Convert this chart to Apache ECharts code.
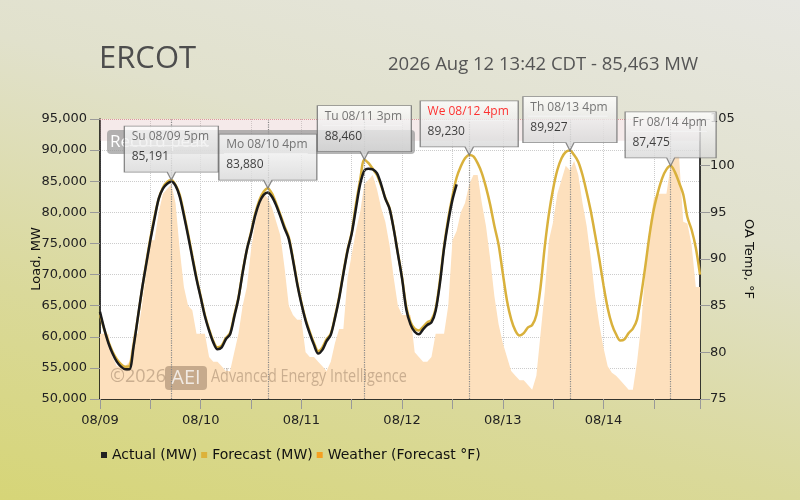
<!DOCTYPE html>
<html lang="en">
<head>
<meta charset="utf-8">
<title>ERCOT load</title>
<script src="https://cdn.jsdelivr.net/npm/echarts@6/dist/echarts.min.js"></script>
<style>
    html, body { margin: 0; padding: 0; }
    #main {
        width: 800px; height: 500px;
        background: linear-gradient(195deg, #e7e7e2 0%, #e1e1cc 35%, #dad99a 70%, #d6d577 100%);
    }
</style>
</head>
<body>
<div id="main"></div>
<script>
    // x is hours since 08/09 00:00
    var dayLabels = ['08/09', '08/10', '08/11', '08/12', '08/13', '08/14'];

    // Actual load, MW (hourly, ends 08/12 13:00)
    var actual = [
        64000, 61300, 59000, 57300, 56000, 55200, 54800, 54800, 58400, 63000, 67600, 71600, 75500, 79000, 82200, 83800, 84600, 84900, 84300, 82500, 79500, 76200, 72700, 69300,
        66300, 63300, 61000, 59100, 58000, 58300, 59600, 60400, 63200, 66200, 70300, 74000, 76600, 79500, 81600, 82800, 83200, 82500, 81100, 79300, 77400, 75700, 72300, 68500,
        65300, 62600, 60500, 58700, 57300, 57900, 59300, 60300, 63000, 66200, 70100, 73800, 76600, 80600, 84500, 86700, 87000, 86900, 86300, 84500, 82200, 80600, 77300, 73300,
        69300, 64400, 62000, 60800, 60400, 61200, 61900, 62300, 64200, 68500, 74200, 78500, 82000, 84500
    ];

    // Forecast load, MW (hourly)
    var forecast = [
        63600, 61200, 59200, 57600, 56400, 55600, 55200, 55300, 58600, 63000, 67500, 71800, 75800, 79300, 82200, 84000, 84900, 85191, 84400, 82800, 79800, 76500, 73000, 69500,
        66500, 63500, 61200, 59300, 58300, 58600, 59800, 60600, 63500, 66300, 70500, 74000, 76800, 79800, 82000, 83300, 83880, 83000, 81400, 79600, 77700, 76000, 72500, 68700,
        65500, 62800, 60800, 59000, 57700, 58300, 59600, 60500, 63200, 66400, 70300, 74000, 76800, 81300, 85200, 88460, 87900, 87000, 86000, 84300, 82300, 80700, 77400, 73400,
        69500, 64800, 62400, 61300, 61000, 61600, 62300, 62700, 64500, 69000, 74500, 79000, 82600, 85600, 87400, 88700, 89230, 89000, 87900, 86300, 84000, 81200, 77800, 74800,
        70200, 65800, 62800, 61000, 60200, 60600, 61500, 61900, 63500, 68000, 74500, 79800, 83800, 86800, 88700, 89700, 89927, 89200, 88100, 86000, 83200, 80100, 76400, 72500,
        68300, 64600, 62000, 60400, 59400, 59600, 60600, 61300, 62800, 66800, 71500, 76500, 80500, 83300, 85500, 86900, 87475, 86500, 84800, 82900, 79200, 77200, 74300, 70000
    ];

    // Forecast temperature, °F (hourly)
    var weather = [
        82, 82, 82, 79.5, 78.5, 78.5, 78.5, 79, 82, 82, 85, 88.5, 92, 92, 95, 97, 97.5, 98, 96, 91, 87, 85, 84.5, 82,
        82, 82, 79.5, 79, 79, 78.5, 78, 78, 80, 82, 85, 87, 91, 94, 96, 97, 96.5, 95.5, 94, 92.5, 89, 85, 84, 83.5,
        83.5, 80, 79.5, 79.5, 79, 78.5, 78, 79, 81, 82.5, 82.5, 88, 90.5, 93, 95, 98, 98.5, 99, 97.5, 95.5, 94, 91.5, 88, 85,
        84, 84, 84, 80, 79.5, 79, 79, 79.5, 82, 82, 82, 85, 92, 93, 95, 96, 98, 99, 99, 96, 93.5, 90, 86, 83,
        81, 79.5, 78, 77.5, 77, 77, 76.5, 76, 77.5, 82, 86.5, 92, 94, 97, 98.5, 100, 99.5, 100.5, 99, 96, 93.5, 90, 86, 83,
        80.5, 78.5, 77.8, 77.5, 77, 76.5, 76, 76, 79, 83, 89, 93.5, 96.5, 97, 97, 97, 100, 101, 101, 94, 93.8, 91.5, 87, 87
    ];

    // daily forecast peaks
    var peakHours = [17, 40, 63, 88, 112, 136];
    var peakValues = [85191, 83880, 88460, 89230, 89927, 87475];
    var peakLabels = ['Su 08/09 5pm', 'Mo 08/10 4pm', 'Tu 08/11 3pm', 'We 08/12 4pm', 'Th 08/13 4pm', 'Fr 08/14 4pm'];
    var today = '08/12';

    var titleText = 'ERCOT';
    var subText = '2026 Aug 12 13:42 CDT - 85,463 MW';

    function fmt(v) { return v.toLocaleString('en-US'); }
    function pairs(arr) { return arr.map(function (v, i) { return [i, v]; }); }

    var calloutFont = '12px "Open Sans"';
    var ctx = document.createElement('canvas').getContext('2d');
    ctx.font = calloutFont;

    var peakData = peakHours.map(function (h, i) {
        var w = Math.round(ctx.measureText(peakLabels[i]).width) + 17;
        return { name: peakLabels[i], value: [h, peakValues[i]], symbolSize: [w, 54] };
    });

    var myChart = echarts.init(document.getElementById('main'));
    myChart.setOption({
        backgroundColor: 'transparent',
        animation: false,
        textStyle: { fontFamily: 'DejaVu Sans' },
        title: [{
            text: titleText, left: 94, top: 39,
            textStyle: { fontSize: 31, fontWeight: 'normal', color: '#4d4d4d', fontFamily: 'Open Sans' }
        }, {
            text: subText, right: 97, top: 50,
            textStyle: { fontSize: 18.5, fontWeight: 'normal', color: '#555', fontFamily: 'Open Sans' }
        }],
        legend: {
            left: 96, top: 443, icon: 'rect', itemWidth: 6, itemHeight: 6, itemGap: 4,
            textStyle: { fontSize: 14, color: '#111' },
            data: [
                { name: 'Actual (MW)', itemStyle: { color: '#222' } },
                { name: 'Forecast (MW)', itemStyle: { color: '#dcb23a' } },
                { name: 'Weather (Forecast °F)', itemStyle: { color: '#f5a020' } }
            ]
        },
        grid: { left: 100, right: 100, top: 119, bottom: 101, show: true, backgroundColor: '#fff', borderWidth: 0 },
        xAxis: {
            type: 'value', min: 0, max: 143, interval: 12,
            axisLine: { lineStyle: { color: '#000', width: 1.5 } },
            axisTick: { length: 10, lineStyle: { color: '#999' } },
            splitLine: { show: true, lineStyle: { color: '#ccc', type: 'dotted' } },
            axisLabel: {
                margin: 15, fontSize: 13, color: '#222',
                formatter: function (v) { return v % 24 === 0 ? dayLabels[v / 24] : ''; }
            }
        },
        yAxis: [{
            type: 'value', min: 50000, max: 95000, interval: 5000,
            name: 'Load, MW', nameLocation: 'middle', nameGap: 57, nameMoveOverlap: false,
            nameTextStyle: { fontSize: 13, color: '#111' },
            axisLine: { show: true, lineStyle: { color: '#000', width: 1.5 } },
            axisTick: { show: true, length: 10, lineStyle: { color: '#999' } },
            splitLine: { lineStyle: { color: '#ccc', type: 'dotted' } },
            axisLabel: { margin: 13, fontSize: 13, color: '#222', formatter: fmt }
        }, {
            type: 'value', min: 75, max: 105, interval: 5, position: 'right',
            name: 'OA Temp, °F', nameLocation: 'middle', nameGap: 42, nameRotate: -90, nameMoveOverlap: false,
            nameTextStyle: { fontSize: 13, color: '#111' },
            axisLine: { show: true, lineStyle: { color: '#000', width: 1.5 } },
            axisTick: { show: true, length: 10, lineStyle: { color: '#999' } },
            splitLine: { show: false },
            axisLabel: { margin: 10, fontSize: 13, color: '#222' }
        }],
        graphic: [
            { type: 'rect', z: 3, shape: { x: 107, y: 130, width: 308, height: 24, r: 4 }, style: { fill: 'rgba(150,150,150,0.7)' } },
            { type: 'text', z: 3, x: 110, y: 142, style: { text: 'Record peak', fill: '#fff', font: '17px "Open Sans"', verticalAlign: 'middle' } },
            { type: 'text', z: 1.5, x: 110, y: 377, style: { text: '©2026', fill: 'rgba(130,105,80,0.42)', font: '18px "Open Sans"', verticalAlign: 'middle' } },
            { type: 'rect', z: 1.5, shape: { x: 165, y: 366, width: 42, height: 24, r: 4 }, style: { fill: 'rgba(130,105,80,0.45)' } },
            { type: 'text', z: 1.5, x: 186, y: 378, style: { text: 'AEI', fill: 'rgba(255,255,255,0.75)', font: '20px "Open Sans"', align: 'center', verticalAlign: 'middle' } },
            { type: 'text', z: 1.5, x: 211, y: 377, scaleX: 0.8, style: { text: 'Advanced Energy Intelligence', fill: 'rgba(130,105,80,0.42)', font: '18px "Open Sans"', verticalAlign: 'middle' } }
        ],
        series: [{
            name: 'Weather (Forecast °F)', type: 'line', yAxisIndex: 1, z: 1,
            symbol: 'none', silent: true,
            itemStyle: { color: '#f5a020' },
            lineStyle: { width: 0 },
            areaStyle: { color: '#fde0bd', opacity: 1 },
            data: pairs(weather)
        }, {
            name: 'Forecast (MW)', type: 'line', z: 2, smooth: 0.3, symbol: 'none', silent: true,
            itemStyle: { color: '#dcb23a' },
            lineStyle: { color: '#d9b13c', width: 2.5 },
            data: pairs(forecast),
            markArea: {
                silent: true,
                itemStyle: { color: 'rgba(214,170,170,0.25)' },
                data: [[{ yAxis: 91500 }, { yAxis: 95000 }]]
            },
            markLine: {
                silent: true, symbol: 'none', label: { show: false },
                lineStyle: { color: '#888', type: 'dotted', width: 1.2 },
                data: peakHours.map(function (h) { return { xAxis: h }; }).concat([
                    { yAxis: 95000, lineStyle: { color: '#d99', type: 'dotted', width: 1 } }
                ])
            }
        }, {
            name: 'Actual (MW)', type: 'line', z: 3, smooth: 0.3, symbol: 'none', silent: true,
            itemStyle: { color: '#222' },
            lineStyle: { color: '#1b1b1b', width: 2.5 },
            data: pairs(actual)
        }, {
            name: 'peaks', type: 'scatter', z: 10, silent: true, clip: false,
            symbol: 'path://M0,0 H92 V46 H50 L46,54 L42,46 H0 Z',
            symbolOffset: [0, -27],
            itemStyle: {
                color: new echarts.graphic.LinearGradient(0, 0, 0, 1, [
                    { offset: 0, color: '#ffffff' }, { offset: 0.85, color: '#d8d8d8' }, { offset: 1, color: '#d8d8d8' }
                ]),
                borderColor: '#6e6e6e', borderWidth: 1
            },
            label: {
                show: true, position: [6, 4],
                formatter: function (p) {
                    var key = p.name.indexOf(today) >= 0 ? 'r' : 't';
                    return '{' + key + '|' + p.name + '}\n{hr|}\n{v|' + fmt(p.value[1]) + '}';
                },
                rich: {
                    t: { fontFamily: 'Open Sans', fontSize: 12, color: '#555', lineHeight: 16, padding: [0, 0, 2, 2] },
                    r: { fontFamily: 'Open Sans', fontSize: 12, color: '#f00', lineHeight: 16, padding: [0, 0, 2, 2] },
                    hr: { width: '100%', height: 0, borderColor: '#f2f2f2', borderWidth: 1 },
                    v: { fontFamily: 'Open Sans', fontSize: 12, color: '#111', lineHeight: 18, padding: [4, 0, 0, 2] }
                }
            },
            data: peakData
        }]
    });
</script>
</body>
</html>
